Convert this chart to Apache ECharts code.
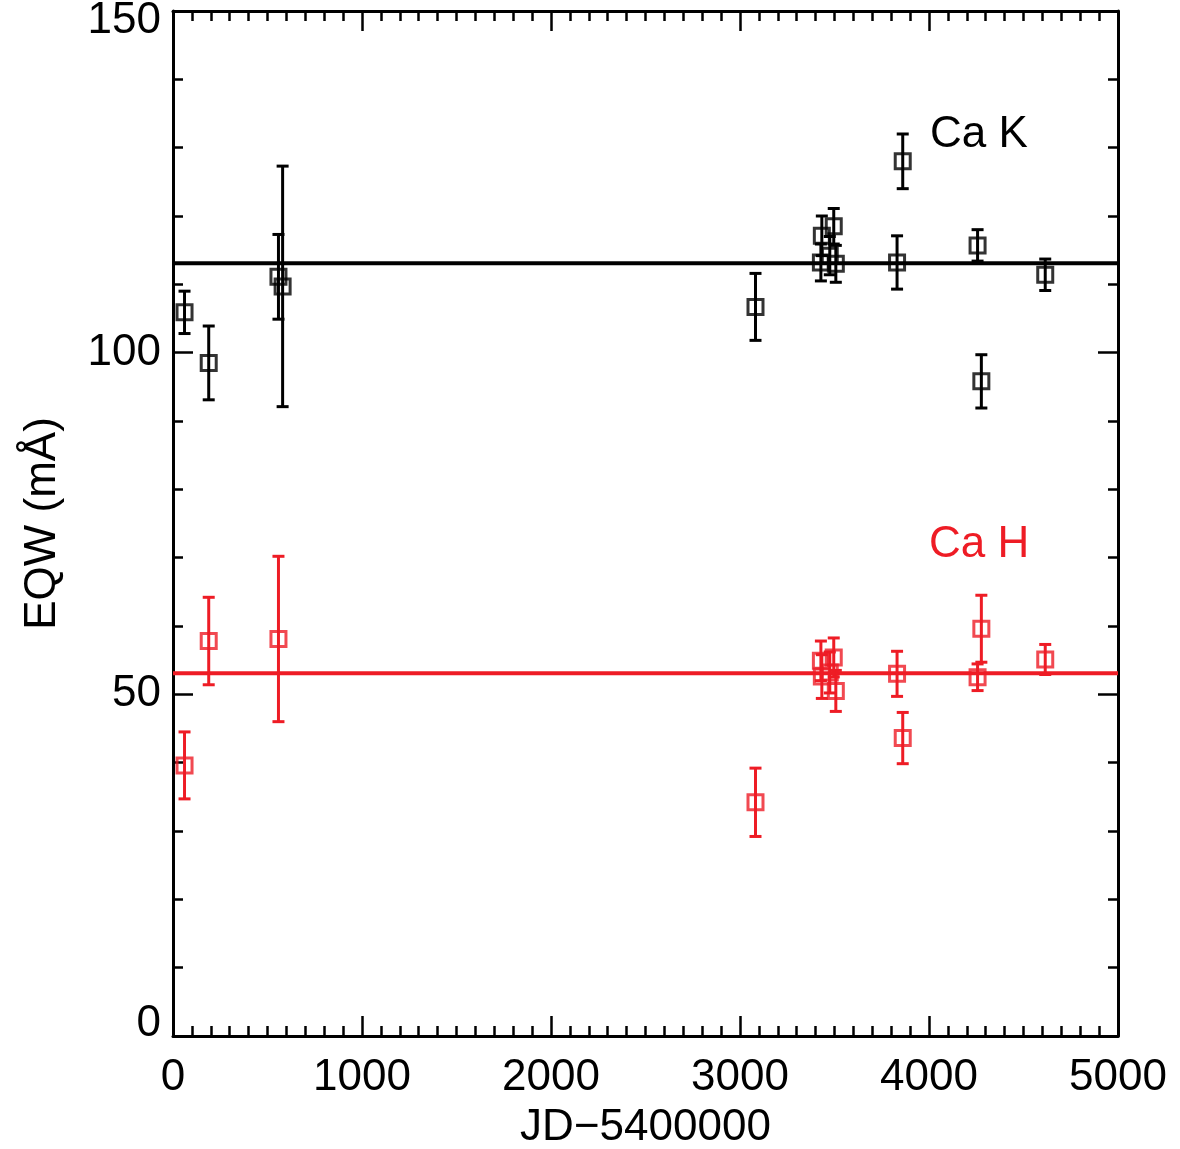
<!DOCTYPE html>
<html>
<head>
<meta charset="utf-8">
<script src="https://cdn.jsdelivr.net/npm/echarts@6/dist/echarts.min.js"></script>
<style>
html,body{margin:0;padding:0;background:#fff;overflow:hidden;}
#chart{width:1180px;height:1149px;}
</style>
</head>
<body>
<div id="chart"></div>
<script>
// Ca K: [JD-5400000, EQW (mÅ), error]
const caK = [
  [61, 105.9, 3.1],
  [189, 98.5, 5.4],
  [558, 111.1, 6.2],
  [580, 109.7, 17.6],
  [3082, 106.7, 4.9],
  [3428, 113.2, 2.7],
  [3433, 117.1, 2.9],
  [3475, 114.2, 2.8],
  [3496, 118.5, 2.6],
  [3507, 113.0, 2.7],
  [3831, 113.2, 3.9],
  [3861, 128.0, 4.0],
  [4257, 115.7, 2.3],
  [4277, 95.8, 3.9],
  [4615, 111.4, 2.3]
];
// Ca H
const caH = [
  [61, 39.6, 4.9],
  [189, 57.8, 6.4],
  [558, 58.1, 12.1],
  [3082, 34.2, 5.0],
  [3428, 54.9, 2.9],
  [3433, 52.6, 3.2],
  [3475, 53.2, 3.0],
  [3496, 55.4, 2.85],
  [3507, 50.5, 3.0],
  [3831, 53.0, 3.3],
  [3861, 43.6, 3.75],
  [4257, 52.5, 1.95],
  [4277, 59.6, 4.9],
  [4615, 55.1, 2.2]
];
const caKMean = 113.1;
const caHMean = 53.1;
const xRange = [0, 5000];
const yRange = [0, 150];

const BLACK = '#000000';
const RED = '#ee1c25';
const FONT = '"Liberation Sans", Arial, Helvetica, sans-serif';

function errRender(color) {
  return function (params, api) {
    const x = api.value(0), y = api.value(1), e = api.value(2);
    const t = api.coord([x, y + e]);
    const b = api.coord([x, y - e]);
    const hw = 6;
    const st = { stroke: color, lineWidth: 3 };
    return {
      type: 'group',
      children: [
        { type: 'line', shape: { x1: t[0], y1: t[1], x2: b[0], y2: b[1] }, style: st },
        { type: 'line', shape: { x1: t[0] - hw, y1: t[1], x2: t[0] + hw, y2: t[1] }, style: st },
        { type: 'line', shape: { x1: b[0] - hw, y1: b[1], x2: b[0] + hw, y2: b[1] }, style: st }
      ]
    };
  };
}

const axisLine = { show: true, onZero: false, lineStyle: { color: BLACK, width: 3 } };
const tick = { show: true, inside: true, length: 20, lineStyle: { color: BLACK, width: 2.5 } };
const minorTick = { show: true, length: 10, lineStyle: { color: BLACK, width: 2.5 } };

const chart = echarts.init(document.getElementById('chart'));
chart.setOption({
  backgroundColor: '#fff',
  animation: false,
  textStyle: { fontFamily: FONT },
  grid: { left: 173, right: 62, top: 11, bottom: 113, containLabel: false, outerBoundsMode: 'none' },
  xAxis: [
    {
      type: 'value', min: xRange[0], max: xRange[1], interval: 1000, position: 'bottom',
      axisLine, axisTick: tick, minorTick: Object.assign({ splitNumber: 10 }, minorTick),
      splitLine: { show: false }, minorSplitLine: { show: false },
      axisLabel: { fontSize: 44, color: BLACK, margin: 20, fontFamily: FONT, formatter: v => String(v) },
      name: 'JD\u22125400000', nameLocation: 'middle', nameGap: 70,
      nameTextStyle: { fontSize: 44, color: BLACK, fontFamily: FONT }
    },
    {
      type: 'value', min: xRange[0], max: xRange[1], interval: 1000, position: 'top',
      axisLine, axisTick: tick, minorTick: Object.assign({ splitNumber: 10 }, minorTick),
      splitLine: { show: false }, axisLabel: { show: false }
    }
  ],
  yAxis: [
    {
      type: 'value', min: yRange[0], max: yRange[1], interval: 50, position: 'left',
      axisLine, axisTick: tick, minorTick: Object.assign({ splitNumber: 5 }, minorTick),
      splitLine: { show: false }, minorSplitLine: { show: false },
      axisLabel: {
        fontSize: 44, color: BLACK, margin: 12, fontFamily: FONT,
        formatter: function (v) {
          if (v === yRange[1]) return '{hi|' + v + '}';
          if (v === yRange[0]) return '{lo|' + v + '}';
          return String(v);
        },
        rich: {
          hi: { fontSize: 44, fontFamily: FONT, color: BLACK, padding: [20, 0, 0, 0] },
          lo: { fontSize: 44, fontFamily: FONT, color: BLACK, padding: [0, 0, 24, 0] }
        }
      },
      name: 'EQW (mÅ)', nameLocation: 'middle', nameGap: 108, nameRotate: 90,
      nameTextStyle: { fontSize: 44, color: BLACK, fontFamily: FONT }
    },
    {
      type: 'value', min: yRange[0], max: yRange[1], interval: 50, position: 'right',
      axisLine, axisTick: tick, minorTick: Object.assign({ splitNumber: 5 }, minorTick),
      splitLine: { show: false }, axisLabel: { show: false }
    }
  ],
  series: [
    {
      type: 'line', xAxisIndex: 0, yAxisIndex: 0, symbol: 'none', silent: true,
      data: [[xRange[0], caKMean], [xRange[1], caKMean]],
      lineStyle: { color: BLACK, width: 4 }, z: 2
    },
    {
      type: 'line', xAxisIndex: 0, yAxisIndex: 0, symbol: 'none', silent: true,
      data: [[xRange[0], caHMean], [xRange[1], caHMean]],
      lineStyle: { color: RED, width: 4 }, z: 2
    },
    {
      type: 'custom', xAxisIndex: 0, yAxisIndex: 0, renderItem: errRender(BLACK),
      data: caK, z: 3, encode: { x: 0, y: 1 }
    },
    {
      type: 'custom', xAxisIndex: 0, yAxisIndex: 0, renderItem: errRender(RED),
      data: caH, z: 3, encode: { x: 0, y: 1 }
    },
    {
      type: 'scatter', xAxisIndex: 0, yAxisIndex: 0, symbol: 'rect', symbolSize: 15,
      data: caK.map(d => [d[0], d[1]]),
      itemStyle: { color: 'rgba(0,0,0,0)', borderColor: BLACK, borderWidth: 3 }, z: 4
    },
    {
      type: 'scatter', xAxisIndex: 0, yAxisIndex: 0, symbol: 'rect', symbolSize: 15,
      data: caH.map(d => [d[0], d[1]]),
      itemStyle: { color: 'rgba(0,0,0,0)', borderColor: RED, borderWidth: 3 }, z: 4
    }
  ],
  graphic: [
    { type: 'text', left: 930, top: 113, style: { text: 'Ca K', font: '44px ' + FONT, fill: BLACK } },
    { type: 'text', left: 929, top: 523, style: { text: 'Ca H', font: '44px ' + FONT, fill: RED } }
  ]
});
</script>
</body>
</html>
